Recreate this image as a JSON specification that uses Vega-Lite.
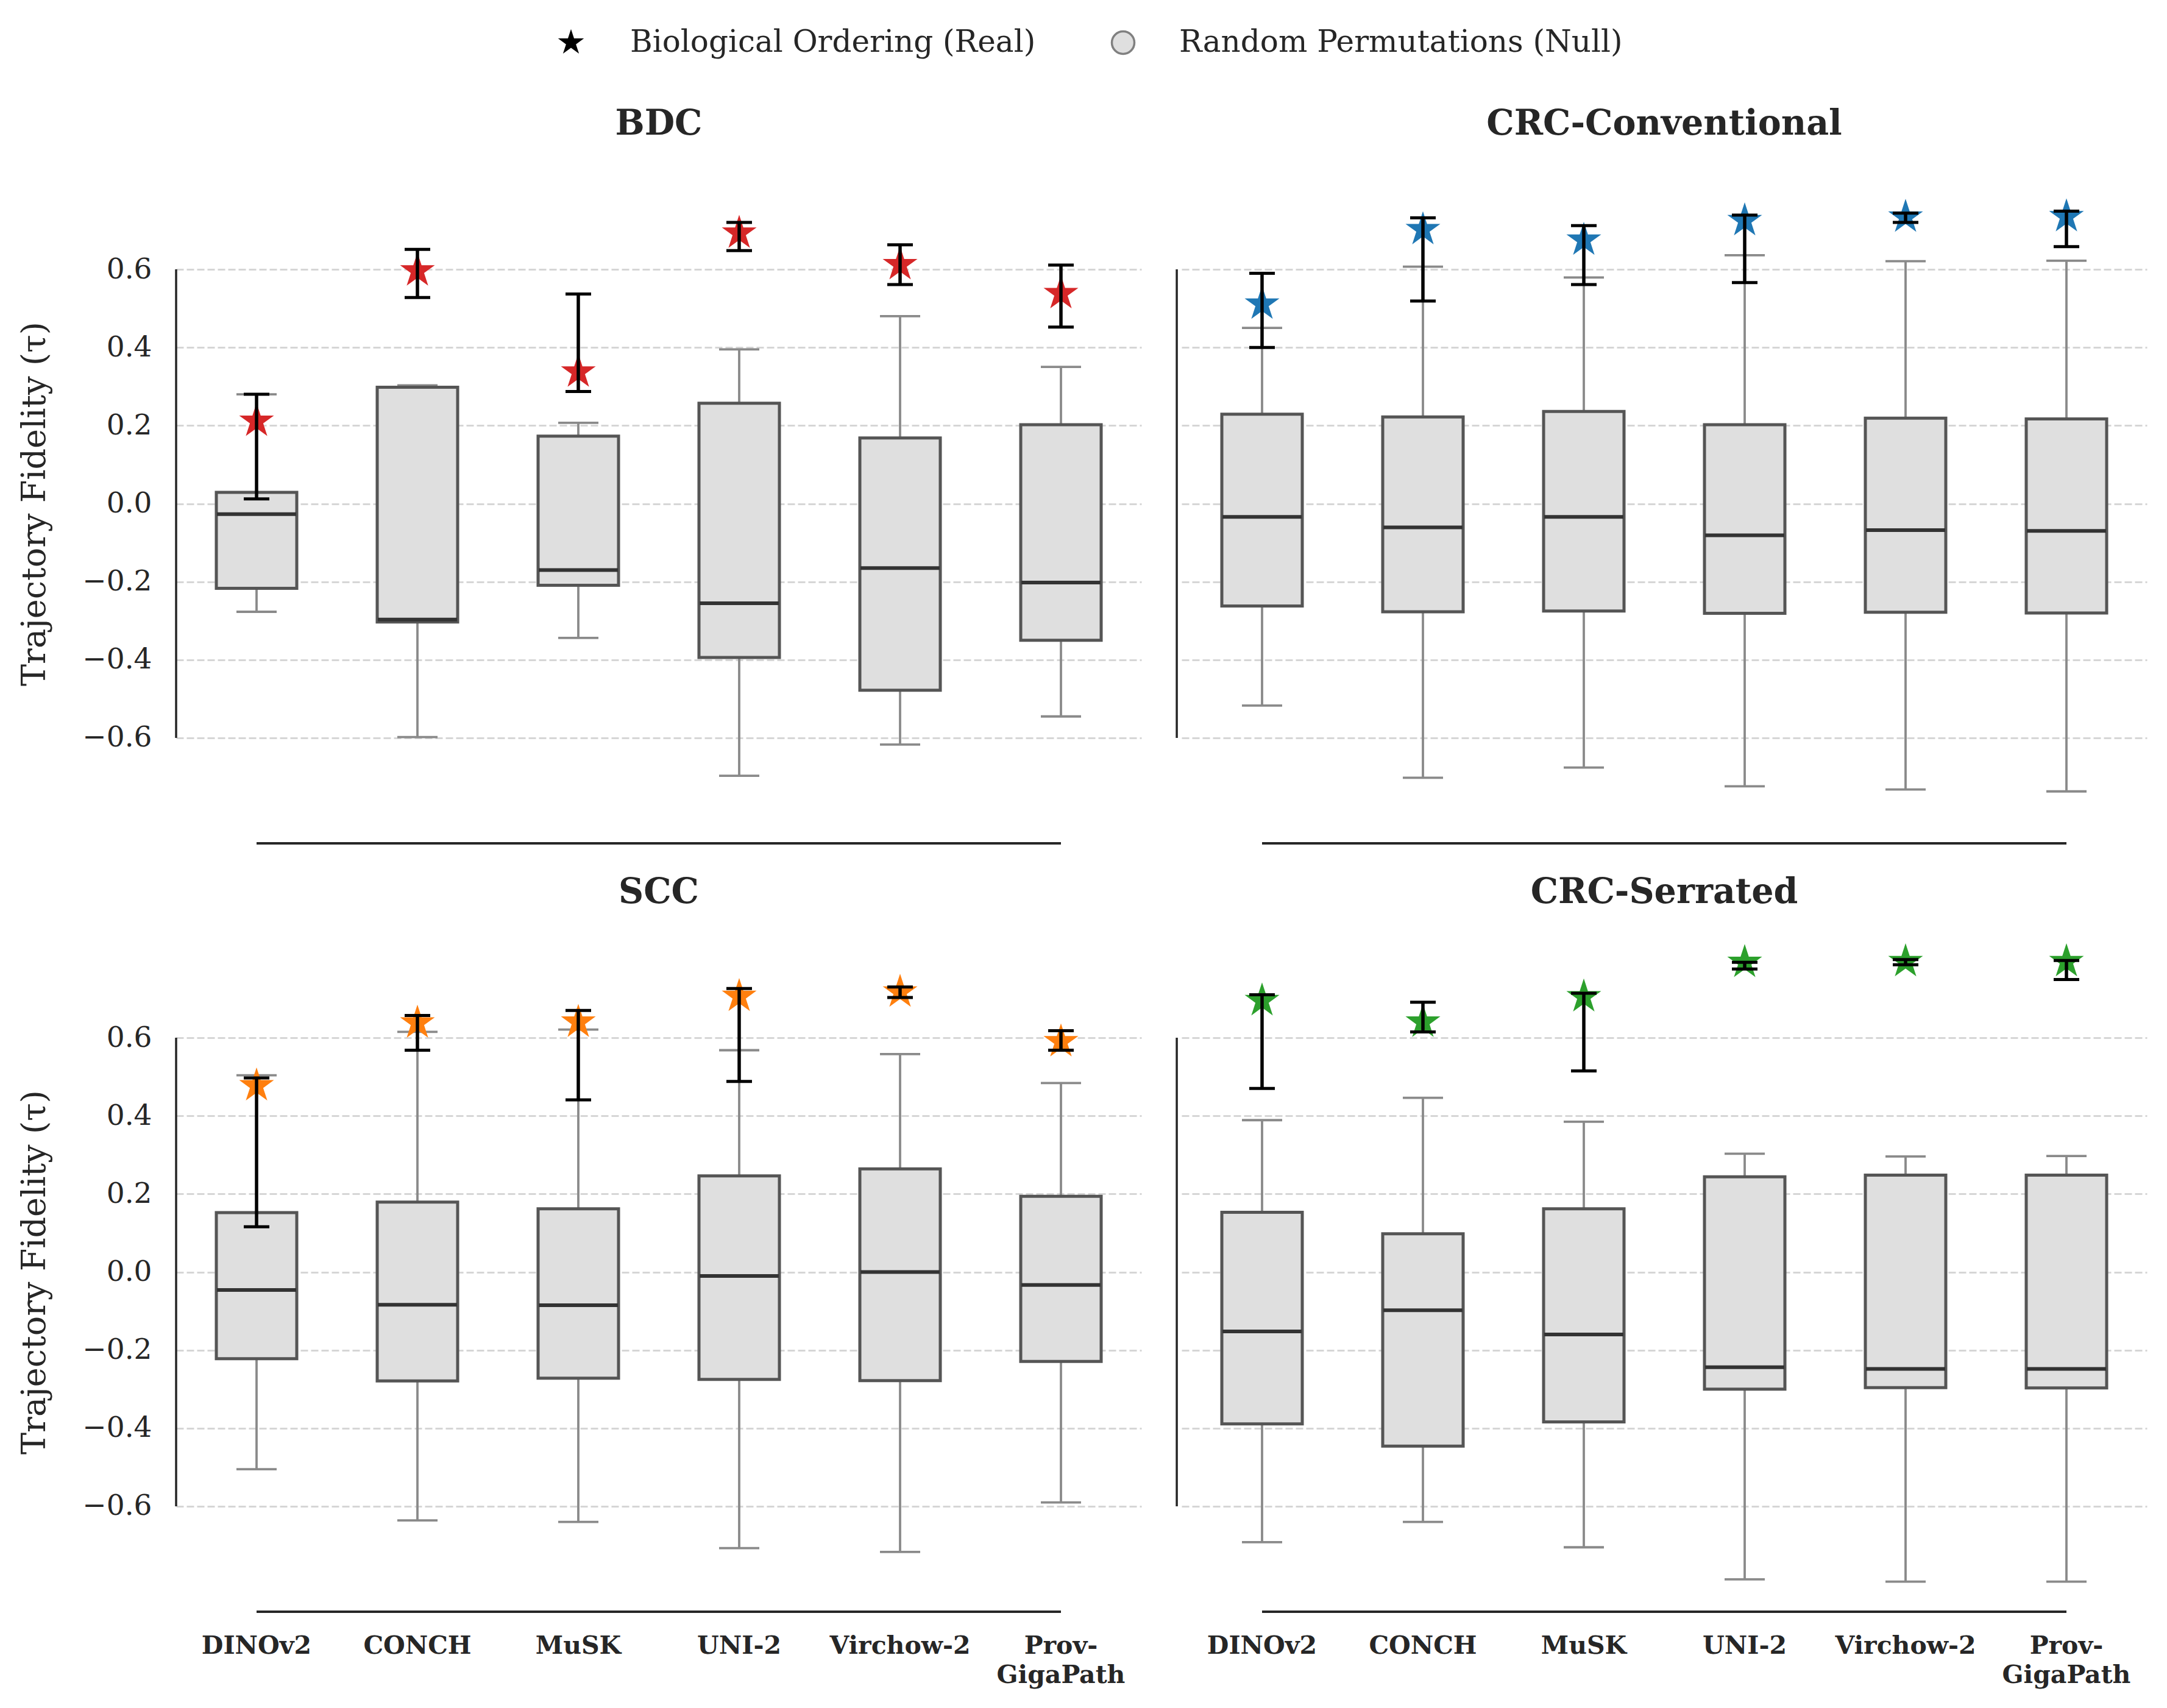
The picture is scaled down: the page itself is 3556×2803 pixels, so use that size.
{
  "$schema": "https://vega.github.io/schema/vega-lite/v6.json",
  "background": "white",
  "padding": {"left": 30, "top": 45, "right": 20, "bottom": 20},
  "data": {"values": [
    {"dataset": "BDC", "model": "DINOv2", "lo": -0.277, "q1": -0.217, "med": -0.027, "q3": 0.029, "hi": 0.280, "real": 0.211, "ci_lo": 0.012, "ci_hi": 0.280},
    {"dataset": "BDC", "model": "CONCH", "lo": -0.598, "q1": -0.303, "med": -0.297, "q3": 0.298, "hi": 0.303, "real": 0.596, "ci_lo": 0.528, "ci_hi": 0.651},
    {"dataset": "BDC", "model": "MuSK", "lo": -0.344, "q1": -0.209, "med": -0.170, "q3": 0.173, "hi": 0.207, "real": 0.337, "ci_lo": 0.287, "ci_hi": 0.537},
    {"dataset": "BDC", "model": "UNI-2", "lo": -0.697, "q1": -0.394, "med": -0.255, "q3": 0.257, "hi": 0.395, "real": 0.693, "ci_lo": 0.648, "ci_hi": 0.720},
    {"dataset": "BDC", "model": "Virchow-2", "lo": -0.617, "q1": -0.478, "med": -0.165, "q3": 0.168, "hi": 0.480, "real": 0.612, "ci_lo": 0.561, "ci_hi": 0.663},
    {"dataset": "BDC", "model": "Prov-GigaPath", "lo": -0.545, "q1": -0.350, "med": -0.202, "q3": 0.202, "hi": 0.350, "real": 0.538, "ci_lo": 0.452, "ci_hi": 0.611},
    {"dataset": "CRC-Conventional", "model": "DINOv2", "lo": -0.517, "q1": -0.262, "med": -0.034, "q3": 0.229, "hi": 0.450, "real": 0.511, "ci_lo": 0.400, "ci_hi": 0.590},
    {"dataset": "CRC-Conventional", "model": "CONCH", "lo": -0.702, "q1": -0.277, "med": -0.061, "q3": 0.222, "hi": 0.607, "real": 0.702, "ci_lo": 0.519, "ci_hi": 0.732},
    {"dataset": "CRC-Conventional", "model": "MuSK", "lo": -0.676, "q1": -0.275, "med": -0.034, "q3": 0.236, "hi": 0.579, "real": 0.675, "ci_lo": 0.561, "ci_hi": 0.712},
    {"dataset": "CRC-Conventional", "model": "UNI-2", "lo": -0.724, "q1": -0.281, "med": -0.081, "q3": 0.202, "hi": 0.636, "real": 0.725, "ci_lo": 0.566, "ci_hi": 0.739},
    {"dataset": "CRC-Conventional", "model": "Virchow-2", "lo": -0.732, "q1": -0.278, "med": -0.068, "q3": 0.219, "hi": 0.621, "real": 0.734, "ci_lo": 0.720, "ci_hi": 0.744},
    {"dataset": "CRC-Conventional", "model": "Prov-GigaPath", "lo": -0.737, "q1": -0.280, "med": -0.070, "q3": 0.217, "hi": 0.622, "real": 0.735, "ci_lo": 0.658, "ci_hi": 0.749},
    {"dataset": "SCC", "model": "DINOv2", "lo": -0.505, "q1": -0.222, "med": -0.046, "q3": 0.152, "hi": 0.504, "real": 0.477, "ci_lo": 0.116, "ci_hi": 0.497},
    {"dataset": "SCC", "model": "CONCH", "lo": -0.636, "q1": -0.279, "med": -0.084, "q3": 0.179, "hi": 0.615, "real": 0.638, "ci_lo": 0.568, "ci_hi": 0.657},
    {"dataset": "SCC", "model": "MuSK", "lo": -0.640, "q1": -0.272, "med": -0.085, "q3": 0.162, "hi": 0.621, "real": 0.640, "ci_lo": 0.441, "ci_hi": 0.670},
    {"dataset": "SCC", "model": "UNI-2", "lo": -0.707, "q1": -0.275, "med": -0.010, "q3": 0.246, "hi": 0.568, "real": 0.706, "ci_lo": 0.488, "ci_hi": 0.726},
    {"dataset": "SCC", "model": "Virchow-2", "lo": -0.717, "q1": -0.278, "med": 0.000, "q3": 0.264, "hi": 0.558, "real": 0.717, "ci_lo": 0.703, "ci_hi": 0.730},
    {"dataset": "SCC", "model": "Prov-GigaPath", "lo": -0.590, "q1": -0.229, "med": -0.033, "q3": 0.194, "hi": 0.484, "real": 0.590, "ci_lo": 0.568, "ci_hi": 0.618},
    {"dataset": "CRC-Serrated", "model": "DINOv2", "lo": -0.692, "q1": -0.389, "med": -0.152, "q3": 0.153, "hi": 0.389, "real": 0.695, "ci_lo": 0.470, "ci_hi": 0.710},
    {"dataset": "CRC-Serrated", "model": "CONCH", "lo": -0.640, "q1": -0.446, "med": -0.098, "q3": 0.098, "hi": 0.446, "real": 0.640, "ci_lo": 0.615, "ci_hi": 0.691},
    {"dataset": "CRC-Serrated", "model": "MuSK", "lo": -0.705, "q1": -0.384, "med": -0.160, "q3": 0.162, "hi": 0.385, "real": 0.705, "ci_lo": 0.515, "ci_hi": 0.714},
    {"dataset": "CRC-Serrated", "model": "UNI-2", "lo": -0.787, "q1": -0.300, "med": -0.244, "q3": 0.244, "hi": 0.303, "real": 0.793, "ci_lo": 0.776, "ci_hi": 0.793},
    {"dataset": "CRC-Serrated", "model": "Virchow-2", "lo": -0.793, "q1": -0.296, "med": -0.248, "q3": 0.248, "hi": 0.296, "real": 0.795, "ci_lo": 0.787, "ci_hi": 0.800},
    {"dataset": "CRC-Serrated", "model": "Prov-GigaPath", "lo": -0.793, "q1": -0.297, "med": -0.248, "q3": 0.248, "hi": 0.297, "real": 0.795, "ci_lo": 0.749, "ci_hi": 0.798}
  ]},
  "columns": 2,
  "bounds": "flush",
  "spacing": {"row": 146, "column": 66},
  "concat": [
    {
      "title": {"text": "BDC"},
      "width": 1584, "height": 1115,
      "transform": [{"filter": "datum.dataset === 'BDC'"}],
      "encoding": {"x": {"field": "model", "type": "nominal", "sort": ["DINOv2","CONCH","MuSK","UNI-2","Virchow-2","Prov-GigaPath"], "scale": {"paddingInner": 0, "paddingOuter": 0}, "axis": null}},
      "layer": [
        {"mark": {"type": "rule", "color": "#8a8a8a", "strokeWidth": 3.8}, "encoding": {"y": {"field": "lo", "type": "quantitative", "scale": {"domain": [-0.87, 0.87], "nice": false, "zero": false}, "axis": {"values": [-0.6,-0.4,-0.2,0,0.2,0.4,0.6], "format": ".1f", "grid": true, "domain": false, "ticks": false, "tickSize": 0, "labelPadding": 40, "title": "Trajectory Fidelity (τ)", "titlePadding": 50}}, "y2": {"field": "q1"}}},
        {"mark": {"type": "rule", "color": "#8a8a8a", "strokeWidth": 3.8}, "encoding": {"y": {"field": "q3", "type": "quantitative"}, "y2": {"field": "hi"}}},
        {"mark": {"type": "tick", "color": "#8a8a8a", "thickness": 3.8, "size": 66, "opacity": 1}, "encoding": {"y": {"field": "lo", "type": "quantitative"}}},
        {"mark": {"type": "tick", "color": "#8a8a8a", "thickness": 3.8, "size": 66, "opacity": 1}, "encoding": {"y": {"field": "hi", "type": "quantitative"}}},
        {"mark": {"type": "bar", "fill": "#dfdfdf", "stroke": "#555555", "strokeWidth": 5, "width": {"band": 0.5}}, "encoding": {"y": {"field": "q1", "type": "quantitative"}, "y2": {"field": "q3"}}},
        {"mark": {"type": "tick", "color": "#333333", "thickness": 6, "size": 130, "opacity": 1}, "encoding": {"y": {"field": "med", "type": "quantitative"}}},
        {"mark": {"type": "point", "filled": true, "size": 3600, "strokeWidth": 0, "opacity": 1, "color": "#d62728", "shape": "M0,-1L0.2245,-0.309L0.9511,-0.309L0.3633,0.118L0.5878,0.809L0,0.382L-0.5878,0.809L-0.3633,0.118L-0.9511,-0.309L-0.2245,-0.309Z"}, "encoding": {"y": {"field": "real", "type": "quantitative"}}},
        {"mark": {"type": "rule", "color": "#000000", "strokeWidth": 5.5}, "encoding": {"y": {"field": "ci_lo", "type": "quantitative"}, "y2": {"field": "ci_hi"}}},
        {"mark": {"type": "tick", "color": "#000000", "thickness": 5, "size": 42, "opacity": 1}, "encoding": {"y": {"field": "ci_lo", "type": "quantitative"}}},
        {"mark": {"type": "tick", "color": "#000000", "thickness": 5, "size": 42, "opacity": 1}, "encoding": {"y": {"field": "ci_hi", "type": "quantitative"}}},
        {"transform": [{"filter": "datum.model === 'DINOv2'"}], "mark": {"type": "rule", "color": "#262626", "strokeWidth": 3.5}, "encoding": {"x": {"field": "model", "type": "nominal", "sort": ["DINOv2","CONCH","MuSK","UNI-2","Virchow-2","Prov-GigaPath"], "bandPosition": 0}, "y": {"datum": -0.6}, "y2": {"datum": 0.6}}},
        {"transform": [{"filter": "datum.model === 'DINOv2'"}], "mark": {"type": "rule", "color": "#262626", "strokeWidth": 4}, "encoding": {"x": {"field": "model", "type": "nominal", "sort": ["DINOv2","CONCH","MuSK","UNI-2","Virchow-2","Prov-GigaPath"]}, "x2": {"datum": "Prov-GigaPath"}, "y": {"datum": -0.87}}},
        {"transform": [{"filter": "false"}], "mark": {"type": "point", "filled": true, "color": "#000000", "opacity": 1, "strokeWidth": 0}, "encoding": {"y": {"field": "real", "type": "quantitative"},
          "shape": {"datum": "Biological Ordering (Real)", "type": "nominal",
            "scale": {"domain": ["Biological Ordering (Real)"], "range": ["M0,-1L0.2245,-0.309L0.9511,-0.309L0.3633,0.118L0.5878,0.809L0,0.382L-0.5878,0.809L-0.3633,0.118L-0.9511,-0.309L-0.2245,-0.309Z"]},
            "legend": {"orient": "none", "legendX": 623, "legendY": -224, "direction": "horizontal", "title": null, "padding": 0,
              "labelFont": "DejaVu Serif", "labelFontSize": 50, "labelColor": "#262626", "labelLimit": 0, "labelOffset": 72, "symbolSize": 2000, "symbolOpacity": 1, "symbolFillColor": "#000000", "symbolStrokeWidth": 0}}}},
        {"transform": [{"filter": "false"}], "mark": {"type": "point", "filled": true, "shape": "circle", "stroke": "#808080", "strokeWidth": 3.5, "opacity": 1}, "encoding": {"y": {"field": "real", "type": "quantitative"},
          "fill": {"datum": "Random Permutations (Null)", "type": "nominal",
            "scale": {"domain": ["Random Permutations (Null)"], "range": ["#dfdfdf"]},
            "legend": {"orient": "none", "legendX": 1529, "legendY": -224, "direction": "horizontal", "title": null, "padding": 0,
              "labelFont": "DejaVu Serif", "labelFontSize": 50, "labelColor": "#262626", "labelLimit": 0, "labelOffset": 67, "symbolSize": 1370, "symbolType": "circle", "symbolOpacity": 1, "symbolStrokeColor": "#808080", "symbolStrokeWidth": 3.5}}}}
      ]
    },
    {
      "title": {"text": "CRC-Conventional"},
      "width": 1584, "height": 1115,
      "transform": [{"filter": "datum.dataset === 'CRC-Conventional'"}],
      "encoding": {"x": {"field": "model", "type": "nominal", "sort": ["DINOv2","CONCH","MuSK","UNI-2","Virchow-2","Prov-GigaPath"], "scale": {"paddingInner": 0, "paddingOuter": 0}, "axis": null}},
      "layer": [
        {"mark": {"type": "rule", "color": "#8a8a8a", "strokeWidth": 3.8}, "encoding": {"y": {"field": "lo", "type": "quantitative", "scale": {"domain": [-0.87, 0.87], "nice": false, "zero": false}, "axis": {"values": [-0.6,-0.4,-0.2,0,0.2,0.4,0.6], "grid": true, "domain": false, "ticks": false, "tickSize": 0, "labels": false, "title": null}}, "y2": {"field": "q1"}}},
        {"mark": {"type": "rule", "color": "#8a8a8a", "strokeWidth": 3.8}, "encoding": {"y": {"field": "q3", "type": "quantitative"}, "y2": {"field": "hi"}}},
        {"mark": {"type": "tick", "color": "#8a8a8a", "thickness": 3.8, "size": 66, "opacity": 1}, "encoding": {"y": {"field": "lo", "type": "quantitative"}}},
        {"mark": {"type": "tick", "color": "#8a8a8a", "thickness": 3.8, "size": 66, "opacity": 1}, "encoding": {"y": {"field": "hi", "type": "quantitative"}}},
        {"mark": {"type": "bar", "fill": "#dfdfdf", "stroke": "#555555", "strokeWidth": 5, "width": {"band": 0.5}}, "encoding": {"y": {"field": "q1", "type": "quantitative"}, "y2": {"field": "q3"}}},
        {"mark": {"type": "tick", "color": "#333333", "thickness": 6, "size": 130, "opacity": 1}, "encoding": {"y": {"field": "med", "type": "quantitative"}}},
        {"mark": {"type": "point", "filled": true, "size": 3600, "strokeWidth": 0, "opacity": 1, "color": "#1f77b4", "shape": "M0,-1L0.2245,-0.309L0.9511,-0.309L0.3633,0.118L0.5878,0.809L0,0.382L-0.5878,0.809L-0.3633,0.118L-0.9511,-0.309L-0.2245,-0.309Z"}, "encoding": {"y": {"field": "real", "type": "quantitative"}}},
        {"mark": {"type": "rule", "color": "#000000", "strokeWidth": 5.5}, "encoding": {"y": {"field": "ci_lo", "type": "quantitative"}, "y2": {"field": "ci_hi"}}},
        {"mark": {"type": "tick", "color": "#000000", "thickness": 5, "size": 42, "opacity": 1}, "encoding": {"y": {"field": "ci_lo", "type": "quantitative"}}},
        {"mark": {"type": "tick", "color": "#000000", "thickness": 5, "size": 42, "opacity": 1}, "encoding": {"y": {"field": "ci_hi", "type": "quantitative"}}},
        {"transform": [{"filter": "datum.model === 'DINOv2'"}], "mark": {"type": "rule", "color": "#262626", "strokeWidth": 3.5}, "encoding": {"x": {"field": "model", "type": "nominal", "sort": ["DINOv2","CONCH","MuSK","UNI-2","Virchow-2","Prov-GigaPath"], "bandPosition": -0.03}, "y": {"datum": -0.6}, "y2": {"datum": 0.6}}},
        {"transform": [{"filter": "datum.model === 'DINOv2'"}], "mark": {"type": "rule", "color": "#262626", "strokeWidth": 4}, "encoding": {"x": {"field": "model", "type": "nominal", "sort": ["DINOv2","CONCH","MuSK","UNI-2","Virchow-2","Prov-GigaPath"]}, "x2": {"datum": "Prov-GigaPath"}, "y": {"datum": -0.87}}}
      ]
    },
    {
      "title": {"text": "SCC"},
      "width": 1584, "height": 1115,
      "transform": [{"filter": "datum.dataset === 'SCC'"}],
      "encoding": {"x": {"field": "model", "type": "nominal", "sort": ["DINOv2","CONCH","MuSK","UNI-2","Virchow-2","Prov-GigaPath"], "scale": {"paddingInner": 0, "paddingOuter": 0},
        "axis": {"title": null, "domain": false, "ticks": false, "tickSize": 0, "grid": false, "labelAngle": 0, "labelFontSize": 41, "labelFontWeight": "bold", "labelPadding": 36, "labelLineHeight": 48, "labelLimit": 0, "labelExpr": "datum.label == 'Prov-GigaPath' ? ['Prov-', 'GigaPath'] : datum.label"}}},
      "layer": [
        {"mark": {"type": "rule", "color": "#8a8a8a", "strokeWidth": 3.8}, "encoding": {"y": {"field": "lo", "type": "quantitative", "scale": {"domain": [-0.87, 0.87], "nice": false, "zero": false}, "axis": {"values": [-0.6,-0.4,-0.2,0,0.2,0.4,0.6], "format": ".1f", "grid": true, "domain": false, "ticks": false, "tickSize": 0, "labelPadding": 40, "title": "Trajectory Fidelity (τ)", "titlePadding": 50}}, "y2": {"field": "q1"}}},
        {"mark": {"type": "rule", "color": "#8a8a8a", "strokeWidth": 3.8}, "encoding": {"y": {"field": "q3", "type": "quantitative"}, "y2": {"field": "hi"}}},
        {"mark": {"type": "tick", "color": "#8a8a8a", "thickness": 3.8, "size": 66, "opacity": 1}, "encoding": {"y": {"field": "lo", "type": "quantitative"}}},
        {"mark": {"type": "tick", "color": "#8a8a8a", "thickness": 3.8, "size": 66, "opacity": 1}, "encoding": {"y": {"field": "hi", "type": "quantitative"}}},
        {"mark": {"type": "bar", "fill": "#dfdfdf", "stroke": "#555555", "strokeWidth": 5, "width": {"band": 0.5}}, "encoding": {"y": {"field": "q1", "type": "quantitative"}, "y2": {"field": "q3"}}},
        {"mark": {"type": "tick", "color": "#333333", "thickness": 6, "size": 130, "opacity": 1}, "encoding": {"y": {"field": "med", "type": "quantitative"}}},
        {"mark": {"type": "point", "filled": true, "size": 3600, "strokeWidth": 0, "opacity": 1, "color": "#ff7f0e", "shape": "M0,-1L0.2245,-0.309L0.9511,-0.309L0.3633,0.118L0.5878,0.809L0,0.382L-0.5878,0.809L-0.3633,0.118L-0.9511,-0.309L-0.2245,-0.309Z"}, "encoding": {"y": {"field": "real", "type": "quantitative"}}},
        {"mark": {"type": "rule", "color": "#000000", "strokeWidth": 5.5}, "encoding": {"y": {"field": "ci_lo", "type": "quantitative"}, "y2": {"field": "ci_hi"}}},
        {"mark": {"type": "tick", "color": "#000000", "thickness": 5, "size": 42, "opacity": 1}, "encoding": {"y": {"field": "ci_lo", "type": "quantitative"}}},
        {"mark": {"type": "tick", "color": "#000000", "thickness": 5, "size": 42, "opacity": 1}, "encoding": {"y": {"field": "ci_hi", "type": "quantitative"}}},
        {"transform": [{"filter": "datum.model === 'DINOv2'"}], "mark": {"type": "rule", "color": "#262626", "strokeWidth": 3.5}, "encoding": {"x": {"field": "model", "type": "nominal", "sort": ["DINOv2","CONCH","MuSK","UNI-2","Virchow-2","Prov-GigaPath"], "bandPosition": 0}, "y": {"datum": -0.6}, "y2": {"datum": 0.6}}},
        {"transform": [{"filter": "datum.model === 'DINOv2'"}], "mark": {"type": "rule", "color": "#262626", "strokeWidth": 4}, "encoding": {"x": {"field": "model", "type": "nominal", "sort": ["DINOv2","CONCH","MuSK","UNI-2","Virchow-2","Prov-GigaPath"]}, "x2": {"datum": "Prov-GigaPath"}, "y": {"datum": -0.87}}}
      ]
    },
    {
      "title": {"text": "CRC-Serrated"},
      "width": 1584, "height": 1115,
      "transform": [{"filter": "datum.dataset === 'CRC-Serrated'"}],
      "encoding": {"x": {"field": "model", "type": "nominal", "sort": ["DINOv2","CONCH","MuSK","UNI-2","Virchow-2","Prov-GigaPath"], "scale": {"paddingInner": 0, "paddingOuter": 0},
        "axis": {"title": null, "domain": false, "ticks": false, "tickSize": 0, "grid": false, "labelAngle": 0, "labelFontSize": 41, "labelFontWeight": "bold", "labelPadding": 36, "labelLineHeight": 48, "labelLimit": 0, "labelExpr": "datum.label == 'Prov-GigaPath' ? ['Prov-', 'GigaPath'] : datum.label"}}},
      "layer": [
        {"mark": {"type": "rule", "color": "#8a8a8a", "strokeWidth": 3.8}, "encoding": {"y": {"field": "lo", "type": "quantitative", "scale": {"domain": [-0.87, 0.87], "nice": false, "zero": false}, "axis": {"values": [-0.6,-0.4,-0.2,0,0.2,0.4,0.6], "grid": true, "domain": false, "ticks": false, "tickSize": 0, "labels": false, "title": null}}, "y2": {"field": "q1"}}},
        {"mark": {"type": "rule", "color": "#8a8a8a", "strokeWidth": 3.8}, "encoding": {"y": {"field": "q3", "type": "quantitative"}, "y2": {"field": "hi"}}},
        {"mark": {"type": "tick", "color": "#8a8a8a", "thickness": 3.8, "size": 66, "opacity": 1}, "encoding": {"y": {"field": "lo", "type": "quantitative"}}},
        {"mark": {"type": "tick", "color": "#8a8a8a", "thickness": 3.8, "size": 66, "opacity": 1}, "encoding": {"y": {"field": "hi", "type": "quantitative"}}},
        {"mark": {"type": "bar", "fill": "#dfdfdf", "stroke": "#555555", "strokeWidth": 5, "width": {"band": 0.5}}, "encoding": {"y": {"field": "q1", "type": "quantitative"}, "y2": {"field": "q3"}}},
        {"mark": {"type": "tick", "color": "#333333", "thickness": 6, "size": 130, "opacity": 1}, "encoding": {"y": {"field": "med", "type": "quantitative"}}},
        {"mark": {"type": "point", "filled": true, "size": 3600, "strokeWidth": 0, "opacity": 1, "color": "#2ca02c", "shape": "M0,-1L0.2245,-0.309L0.9511,-0.309L0.3633,0.118L0.5878,0.809L0,0.382L-0.5878,0.809L-0.3633,0.118L-0.9511,-0.309L-0.2245,-0.309Z"}, "encoding": {"y": {"field": "real", "type": "quantitative"}}},
        {"mark": {"type": "rule", "color": "#000000", "strokeWidth": 5.5}, "encoding": {"y": {"field": "ci_lo", "type": "quantitative"}, "y2": {"field": "ci_hi"}}},
        {"mark": {"type": "tick", "color": "#000000", "thickness": 5, "size": 42, "opacity": 1}, "encoding": {"y": {"field": "ci_lo", "type": "quantitative"}}},
        {"mark": {"type": "tick", "color": "#000000", "thickness": 5, "size": 42, "opacity": 1}, "encoding": {"y": {"field": "ci_hi", "type": "quantitative"}}},
        {"transform": [{"filter": "datum.model === 'DINOv2'"}], "mark": {"type": "rule", "color": "#262626", "strokeWidth": 3.5}, "encoding": {"x": {"field": "model", "type": "nominal", "sort": ["DINOv2","CONCH","MuSK","UNI-2","Virchow-2","Prov-GigaPath"], "bandPosition": -0.03}, "y": {"datum": -0.6}, "y2": {"datum": 0.6}}},
        {"transform": [{"filter": "datum.model === 'DINOv2'"}], "mark": {"type": "rule", "color": "#262626", "strokeWidth": 4}, "encoding": {"x": {"field": "model", "type": "nominal", "sort": ["DINOv2","CONCH","MuSK","UNI-2","Virchow-2","Prov-GigaPath"]}, "x2": {"datum": "Prov-GigaPath"}, "y": {"datum": -0.87}}}
      ]
    }
  ],
  "config": {
    "view": {"stroke": null},
    "font": "DejaVu Serif",
    "axis": {"gridColor": "#d6d6d6", "gridDash": [12, 5], "gridWidth": 3, "labelFont": "DejaVu Serif", "labelFontSize": 47, "labelColor": "#262626", "titleFont": "DejaVu Serif", "titleFontSize": 54, "titleFontWeight": "normal", "titleColor": "#262626"},
    "title": {"font": "DejaVu Serif", "fontSize": 57, "fontWeight": "bold", "color": "#262626", "frame": "group", "anchor": "middle", "baseline": "alphabetic", "offset": 36}
  }
}
